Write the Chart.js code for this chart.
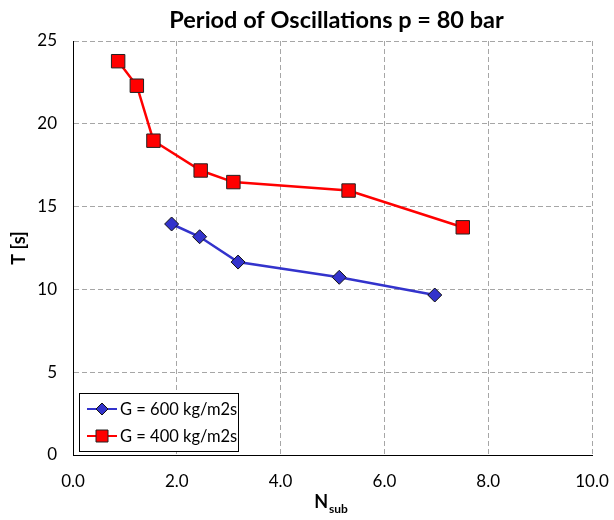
<!DOCTYPE html>
<html>
<head>
<meta charset="utf-8">
<script src="https://cdn.jsdelivr.net/npm/chart.js@4"></script>
<style>
  body { margin: 0; background: #fff; }
  #wrap { width: 614px; height: 520px; }
</style>
</head>
<body>
<div id="wrap"><canvas id="oscChart"></canvas></div>
<script>
const FONT = "Lato, 'Liberation Sans', sans-serif";

// G = 600 kg/m2s
const nsub600 = [1.90, 2.44, 3.18, 5.13, 6.97];
const period600 = [13.95, 13.18, 11.65, 10.73, 9.66];

// G = 400 kg/m2s
const nsub400 = [0.87, 1.23, 1.55, 2.46, 3.09, 5.31, 7.51];
const period400 = [23.78, 22.3, 18.98, 17.18, 16.48, 15.97, 13.75];

const seriesLabels = ["G = 600 kg/m2s", "G = 400 kg/m2s"];
const xTicks = [0, 2, 4, 6, 8, 10];
const yTicks = [0, 5, 10, 15, 20, 25];

const toPoints = (xs, ys) => xs.map((x, i) => ({ x: x, y: ys[i] }));

// title, axis titles (with subscript) and the inside legend box
const decorations = {
  id: "decorations",
  afterDraw(chart) {
    const { ctx, chartArea } = chart;
    ctx.save();
    ctx.fillStyle = "#000";

    ctx.font = "bold 23.5px " + FONT;
    ctx.textAlign = "center";
    ctx.textBaseline = "middle";
    ctx.fillText("Period of Oscillations p = 80 bar", (chartArea.left + chartArea.right) / 2 + 4, 20);

    // x axis title N_sub
    ctx.font = "bold 18px " + FONT;
    const nW = ctx.measureText("N").width;
    ctx.font = "bold 12px " + FONT;
    const sW = ctx.measureText("sub").width;
    const cx = (chartArea.left + chartArea.right) / 2 - 2;
    const startX = cx - (nW + sW) / 2;
    ctx.textAlign = "left";
    ctx.textBaseline = "alphabetic";
    ctx.font = "bold 18px " + FONT;
    ctx.fillText("N", startX, 508);
    ctx.font = "bold 12px " + FONT;
    ctx.fillText("sub", startX + nW + 1, 513);

    // y axis title
    ctx.save();
    ctx.translate(19, (chartArea.top + chartArea.bottom) / 2);
    ctx.rotate(-Math.PI / 2);
    ctx.font = "bold 18px " + FONT;
    ctx.textAlign = "center";
    ctx.textBaseline = "middle";
    ctx.fillText("T [s]", 0, 0);
    ctx.restore();

    // legend box
    const bx = chartArea.left + 6, by = chartArea.bottom - 62, bw = 159, bh = 58;
    ctx.fillStyle = "#fff";
    ctx.fillRect(bx, by, bw, bh);
    ctx.strokeStyle = "#000";
    ctx.lineWidth = 1;
    ctx.strokeRect(bx + 0.5, by + 0.5, bw, bh);
    chart.data.datasets.forEach((ds, i) => {
      const ly = by + 16 + i * 27;
      ctx.strokeStyle = ds.borderColor;
      ctx.lineWidth = 2;
      ctx.beginPath();
      ctx.moveTo(bx + 8, ly);
      ctx.lineTo(bx + 38, ly);
      ctx.stroke();
      const mx = bx + 23;
      ctx.fillStyle = ds.pointBackgroundColor;
      ctx.strokeStyle = ds.pointBorderColor;
      ctx.lineWidth = 1;
      ctx.beginPath();
      if (ds.pointStyle === "rectRot") {
        ctx.moveTo(mx, ly - 6); ctx.lineTo(mx + 6, ly); ctx.lineTo(mx, ly + 6); ctx.lineTo(mx - 6, ly);
        ctx.closePath();
      } else {
        ctx.rect(mx - 6, ly - 6, 12, 12);
      }
      ctx.fill();
      ctx.stroke();
      ctx.fillStyle = "#000";
      ctx.font = "16.5px " + FONT;
      ctx.textAlign = "left";
      ctx.textBaseline = "middle";
      ctx.fillText(ds.label, bx + 41, ly + 1);
    });
    ctx.restore();
  }
};

const ctx = document.getElementById("oscChart");

new Chart(ctx, {
  type: "scatter",
  data: {
    datasets: [
      {
        label: seriesLabels[0],
        data: toPoints(nsub600, period600),
        showLine: true,
        borderColor: "#3333cc",
        borderWidth: 2.5,
        pointStyle: "rectRot",
        pointRadius: 7,
        pointHoverRadius: 7,
        pointBackgroundColor: "#3333cc",
        pointBorderColor: "#111",
        pointBorderWidth: 1,
      },
      {
        label: seriesLabels[1],
        data: toPoints(nsub400, period400),
        showLine: true,
        borderColor: "#ff0000",
        borderWidth: 2.5,
        pointStyle: "rect",
        pointRadius: 9.5,
        pointHoverRadius: 9.5,
        pointBackgroundColor: "#ff0000",
        pointBorderColor: "#222",
        pointBorderWidth: 1,
      },
    ],
  },
  plugins: [decorations],
  options: {
    responsive: true,
    maintainAspectRatio: false,
    animation: false,
    layout: { padding: { top: 41, right: 22, left: 0, bottom: 0 } },
    plugins: {
      legend: { display: false },
      tooltip: { enabled: false },
    },
    scales: {
      x: {
        type: "linear",
        min: 0,
        max: 10,
        afterBuildTicks: (scale) => { scale.ticks = xTicks.map((v) => ({ value: v })); },
        afterFit: (scale) => {
          scale.height = 65;
          scale.paddingLeft = 0;
          scale.paddingRight = 0;
        },
        ticks: {
          color: "#000",
          padding: 16,
          font: { family: FONT, size: 17 },
          callback: (v) => v.toFixed(1),
        },
        grid: { color: "#a6a6a6", drawTicks: false, lineWidth: 1 },
        border: { display: true, color: "#000", width: 1, dash: [5, 3] },
      },
      y: {
        min: 0,
        max: 25,
        afterBuildTicks: (scale) => { scale.ticks = yTicks.map((v) => ({ value: v })); },
        afterFit: (scale) => {
          scale.width = 73;
          scale.paddingTop = 0;
          scale.paddingBottom = 0;
        },
        ticks: {
          color: "#000",
          padding: 16,
          font: { family: FONT, size: 17 },
        },
        grid: { color: "#a6a6a6", drawTicks: false, lineWidth: 1 },
        border: { display: true, color: "#000", width: 1, dash: [5, 3] },
      },
    },
  },
});
</script>
</body>
</html>
